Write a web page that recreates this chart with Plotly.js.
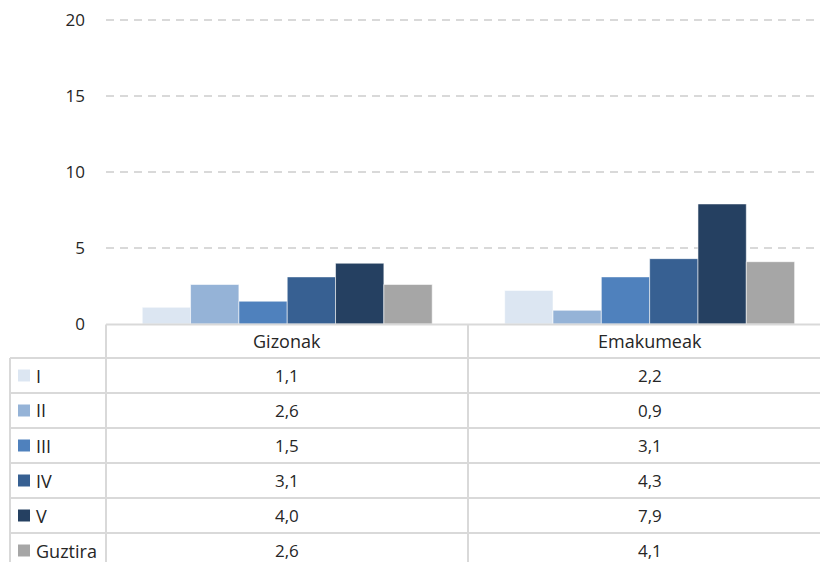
<!DOCTYPE html>
<html>
<head>
<meta charset="utf-8">
<script src="https://cdn.plot.ly/plotly-3.0.1.min.js"></script>
<style>
html,body{margin:0;padding:0;background:#fff;}
#chart{width:820px;height:562px;}
</style>
</head>
<body>
<div id="chart"></div>
<script>
var categories = ['Gizonak', 'Emakumeak'];
var seriesNames = ['I', 'II', 'III', 'IV', 'V', 'Guztira'];
var seriesColors = ['#dce6f2', '#95b3d7', '#4f81bd', '#376092', '#254061', '#a6a6a6'];
var valI = [1.1, 2.2];
var valII = [2.6, 0.9];
var valIII = [1.5, 3.1];
var valIV = [3.1, 4.3];
var valV = [4.0, 7.9];
var valGuztira = [2.6, 4.1];
var yTicks = [0, 5, 10, 15, 20];

var seriesValues = [valI, valII, valIII, valIV, valV, valGuztira];
var fontFam = 'Open Sans, Noto Sans, sans-serif';
var textColor = '#262626';
var lineColor = '#d9d9d9';

// plot area geometry (pixels)
var W = 820, H = 562;
var L = 106, R = 820, T = 17, B = 324;
function px(x) { return (x - L) / (R - L); }
function py(y) { return (B - y) / (B - T); }

var traces = seriesNames.map(function (name, i) {
  return {
    type: 'bar',
    name: name,
    x: categories,
    y: seriesValues[i],
    marker: {color: seriesColors[i], line: {color: 'rgba(255,255,255,0.55)', width: 1}},
    showlegend: false
  };
});

function fmt(v) { return v.toFixed(1).replace('.', ','); }

// table grid
var headerTop = 324.5, headerBottom = 358;
var rowH = 35;
var tableLeft = 10, labelRight = 106, colDiv = 468, tableRight = 820;
var shapes = [];
function hline(y, x0, x1) {
  shapes.push({type: 'line', xref: 'paper', yref: 'paper', x0: px(x0), x1: px(x1), y0: py(y), y1: py(y),
    line: {color: lineColor, width: 2}, layer: 'above'});
}
function vline(x, y0, y1) {
  shapes.push({type: 'line', xref: 'paper', yref: 'paper', x0: px(x), x1: px(x), y0: py(y0), y1: py(y1),
    line: {color: lineColor, width: 2}, layer: 'above'});
}
hline(headerTop, labelRight, tableRight);
for (var r = 0; r <= seriesNames.length; r++) {
  hline(headerBottom + r * rowH, tableLeft, tableRight);
}
vline(tableLeft, headerBottom, H + 10);
vline(labelRight, headerTop, H + 10);
vline(colDiv, headerTop, H + 10);

var annotations = [];
// header
categories.forEach(function (c) {
  annotations.push({xref: 'x', yref: 'paper', x: c, y: py((headerTop + headerBottom) / 2),
    text: c, showarrow: false, xanchor: 'center', yanchor: 'middle',
    font: {family: fontFam, size: 18, color: textColor}});
});
// rows
seriesNames.forEach(function (n, i) {
  var yc = headerBottom + i * rowH + rowH / 2;
  shapes.push({type: 'rect', xref: 'paper', yref: 'paper', x0: px(18), x1: px(30), y0: py(yc - 6), y1: py(yc + 6),
    fillcolor: seriesColors[i], line: {width: 0}, layer: 'above'});
  annotations.push({xref: 'paper', yref: 'paper', x: px(34), y: py(yc), text: n, showarrow: false,
    xanchor: 'left', yanchor: 'middle', font: {family: fontFam, size: 18, color: textColor}});
  categories.forEach(function (c, j) {
    annotations.push({xref: 'x', yref: 'paper', x: c, y: py(yc), text: fmt(seriesValues[i][j]),
      showarrow: false, xanchor: 'center', yanchor: 'middle',
      font: {family: fontFam, size: 17, color: textColor}});
  });
});

var layout = {
  width: W,
  height: H,
  margin: {l: L, r: W - R, t: T, b: H - B},
  paper_bgcolor: 'white',
  plot_bgcolor: 'white',
  font: {family: fontFam, color: textColor},
  barmode: 'group',
  bargap: 0.2,
  bargroupgap: 0,
  xaxis: {
    range: [-0.5, 1.47],
    showticklabels: false,
    showgrid: false,
    zeroline: false,
    showline: false,
    ticks: '',
    fixedrange: true
  },
  yaxis: {
    range: [0, 20.2],
    tickvals: yTicks,
    ticktext: yTicks.map(String),
    showgrid: true,
    gridcolor: lineColor,
    gridwidth: 1.5,
    griddash: '8px,6px',
    zeroline: false,
    showline: false,
    ticks: '',
    ticklabelstandoff: 20,
    tickfont: {family: fontFam, size: 17, color: textColor},
    fixedrange: true
  },
  shapes: shapes,
  annotations: annotations
};

Plotly.newPlot('chart', traces, layout, {displayModeBar: false, staticPlot: true});
</script>
</body>
</html>
